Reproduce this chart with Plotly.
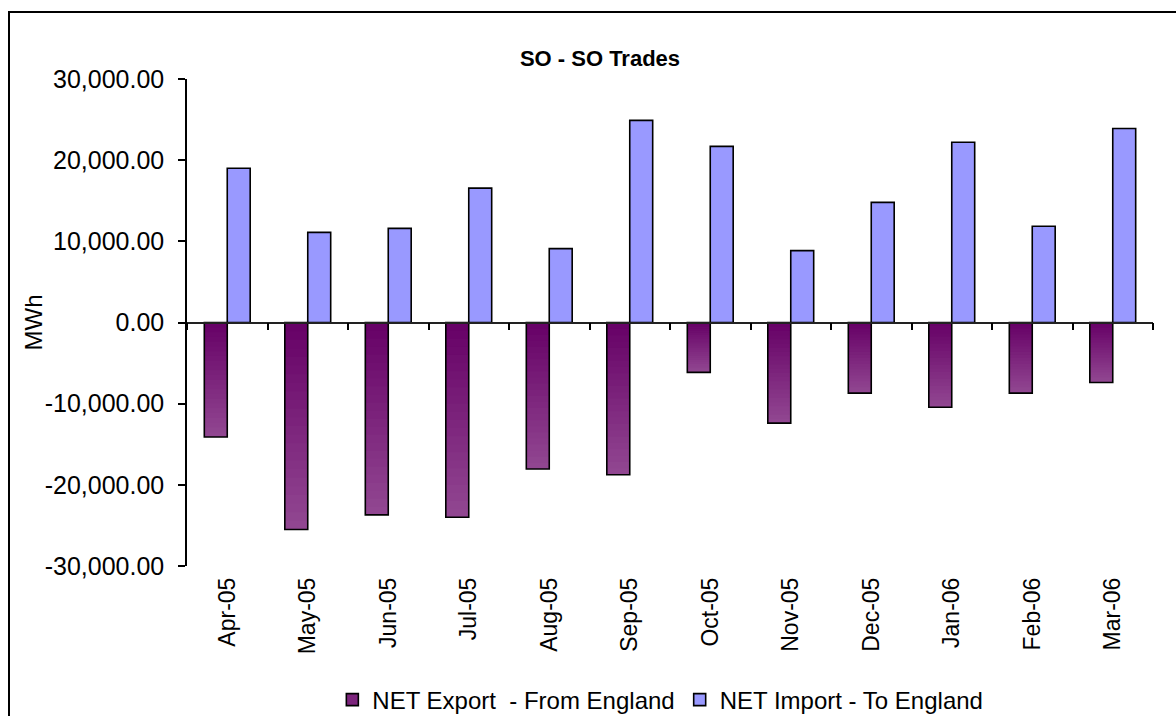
import plotly.graph_objects as go

months = ["Apr-05", "May-05", "Jun-05", "Jul-05", "Aug-05", "Sep-05",
          "Oct-05", "Nov-05", "Dec-05", "Jan-06", "Feb-06", "Mar-06"]
net_export = [-14100, -25500, -23700, -24000, -18050, -18750,
              -6150, -12400, -8700, -10450, -8700, -7400]
net_import = [19000, 11100, 11600, 16550, 9100, 24900,
              21700, 8850, 14800, 22200, 11850, 23900]
y_tick_vals = [-30000, -20000, -10000, 0, 10000, 20000, 30000]
y_tick_text = ["-30,000.00", "-20,000.00", "-10,000.00", "0.00",
               "10,000.00", "20,000.00", "30,000.00"]

export_name = "NET Export \u00a0- From England"
import_name = "NET Import - To England"

BAR_W = 0.285
N_SEG = 24
top_rgb = (102, 0, 102)
bot_rgb = (146, 72, 146)

fig = go.Figure()

# gradient for export bars: nested bars from zero, longest (lightest) first
for k in range(N_SEG, 0, -1):
    t = (k - 0.5) / N_SEG
    r = round(top_rgb[0] + (bot_rgb[0] - top_rgb[0]) * t)
    g = round(top_rgb[1] + (bot_rgb[1] - top_rgb[1]) * t)
    b = round(top_rgb[2] + (bot_rgb[2] - top_rgb[2]) * t)
    fig.add_trace(go.Bar(
        x=months, y=[v * k / N_SEG for v in net_export],
        offset=-BAR_W, width=BAR_W,
        marker=dict(color=f"rgb({r},{g},{b})", line=dict(width=0)),
        showlegend=False, hoverinfo="skip"))

# outline of export bars
fig.add_trace(go.Bar(
    x=months, y=net_export, offset=-BAR_W, width=BAR_W,
    marker=dict(color="rgba(0,0,0,0)", line=dict(color="black", width=1.6)),
    showlegend=False, name=export_name))

# legend entry for export
fig.add_trace(go.Bar(
    x=months, y=[None] * len(months), name=export_name,
    offset=-BAR_W, width=BAR_W,
    marker=dict(color="rgb(124,36,124)", line=dict(color="black", width=1.6))))

fig.add_trace(go.Bar(
    x=months, y=net_import, offset=0, width=BAR_W, name=import_name,
    marker=dict(color="#9999FF", line=dict(color="black", width=1.6))))

# helper trace for the zero-crossing category axis
fig.add_trace(go.Scatter(
    x=months, y=[0] * len(months), xaxis="x2", mode="markers",
    marker=dict(opacity=0), showlegend=False, hoverinfo="skip"))

font_family = "Liberation Sans, Arial, sans-serif"

fig.update_layout(
    width=1176, height=716,
    margin=dict(l=187, r=23, t=79, b=150, autoexpand=False),
    paper_bgcolor="white", plot_bgcolor="white",
    barmode="overlay",
    font=dict(family=font_family, color="black"),
    title=dict(text="<b>SO - SO Trades</b>", x=600 / 1176, xanchor="center",
               y=1 - 58 / 716, yanchor="middle",
               font=dict(size=22, color="black")),
    xaxis=dict(
        type="category", categoryorder="array", categoryarray=months,
        range=[-0.5, 11.5], tickangle=-90, ticks="", showline=False,
        showgrid=False, zeroline=False, tickfont=dict(size=23),
        ticklabelstandoff=6, automargin=False),
    xaxis2=dict(
        type="category", categoryorder="array", categoryarray=months,
        range=[-0.5, 11.5], overlaying="x", anchor="free", position=0.5,
        side="bottom", showticklabels=False, ticks="outside",
        tickson="boundaries", ticklen=7, tickwidth=1.5, tickcolor="black",
        showline=True, linecolor="#222", linewidth=1.5, showgrid=False,
        zeroline=False, automargin=False),
    yaxis=dict(
        range=[-30000, 30000], tickvals=y_tick_vals, ticktext=y_tick_text,
        showline=True, linecolor="black", linewidth=1.5,
        ticks="outside", ticklen=7, tickwidth=1.5, tickcolor="black",
        showgrid=False, zeroline=False, tickfont=dict(size=25),
        ticklabelstandoff=9, automargin=False),
    annotations=[dict(text="MWh", textangle=-90, xref="paper", yref="paper",
                      x=(33 - 187) / 966, y=0.5, xanchor="center",
                      yanchor="middle", showarrow=False,
                      font=dict(size=24, color="black"))],
    legend=dict(
        orientation="h", x=0.49, xanchor="center", y=-(700 - 566) / 487,
        yanchor="middle", font=dict(size=24), traceorder="normal",
        itemwidth=30, bgcolor="rgba(0,0,0,0)"),
    shapes=[dict(type="rect", xref="paper", yref="paper",
                 x0=(9 - 187) / 966, x1=1.2, y0=-0.5, y1=(566 - 12) / 487,
                 line=dict(color="black", width=2), layer="above")],
)

fig.write_html("out.html", config={"displayModeBar": False},
               post_script="document.body.style.margin='0';")
